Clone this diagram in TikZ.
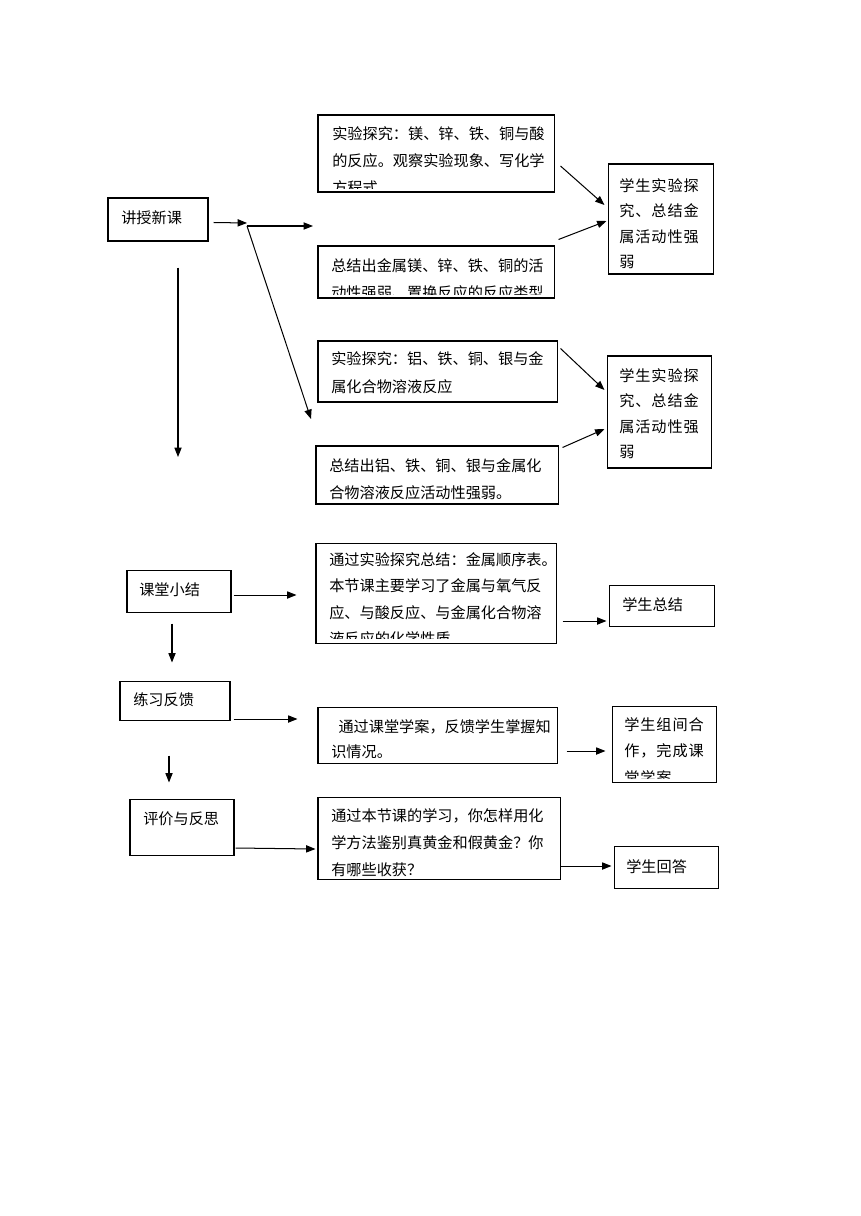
\documentclass[tikz,border=0pt]{standalone}
\usepackage{fontspec}
\setmainfont{Noto Sans CJK SC}
\usetikzlibrary{arrows.meta,fit}

\begin{document}
\begin{tikzpicture}[x=0.6924pt,y=-0.6924pt,
    box/.style={draw,line width=0.7pt,inner sep=0pt},
    txt/.style={anchor=north west,inner sep=0pt,align=left,
      font=\fontsize{10.5pt}{18.7pt}\selectfont},
    wide/.style={txt,font=\fontsize{10.5pt}{17.6pt}\selectfont\addfontfeature{LetterSpace=6}},
    arr/.style={-{Triangle[length=6.5pt,width=5pt]},line width=0.7pt}]
  \useasboundingbox[fill=white] (0,0) rectangle (860,1216);

  % left column
  \node[box,fit={(108,198) (208,241)}] (lecture) {};
  \node[txt] (lecturetxt) at (121,210) {讲授新课};
  \node[box,fit={(127,570) (231,612)}] (summary) {};
  \node[txt] (summarytxt) at (139,582) {课堂小结};
  \node[box,fit={(120,681) (230,720)}] (practice) {};
  \node[txt] (practicetxt) at (133,692) {练习反馈};
  \node[box,fit={(130,799) (234,855)}] (reflect) {};
  \node[txt] (reflecttxt) at (143,811) {评价与反思};

  % middle column
  \node[box,fit={(318,115) (554,192)}] (acid) {};
  \begin{scope}
    \clip (acid.north west) rectangle ([yshift=3pt]acid.south east);
    \node[txt] (acidtxt) at (332,126)
      {实验探究：镁、锌、铁、铜与酸\\的反应。观察实验现象、写化学\\方程式};
  \end{scope}
  \node[box,fit={(318,246) (554,298)}] (acidsum) {};
  \begin{scope}
    \clip (acidsum.north west) rectangle ([yshift=3pt]acidsum.south east);
    \node[txt] (acidsumtxt) at (331,258)
      {总结出金属镁、锌、铁、铜的活\\动性强弱、置换反应的反应类型};
  \end{scope}
  \node[box,fit={(318,341) (557,402)}] (salt) {};
  \node[txt,font=\fontsize{10.5pt}{19.4pt}\selectfont] (salttxt) at (331,351)
    {实验探究：铝、铁、铜、银与金\\属化合物溶液反应};
  \node[box,fit={(316,543) (556,643)}] (order) {};
  \begin{scope}
    \clip (order.north west) rectangle ([yshift=3.5pt]order.south east);
    \node[txt,font=\fontsize{10.5pt}{18.3pt}\selectfont] (ordertxt) at (329,552)
      {通过实验探究总结：金属顺序表。\\本节课主要学习了金属与氧气反\\应、与酸反应、与金属化合物溶\\液反应的化学性质};
  \end{scope}
  \node[box,fit={(316,446) (558,504)}] (saltsum) {};
  \node[txt] (saltsumtxt) at (329,458)
    {总结出铝、铁、铜、银与金属化\\合物溶液反应活动性强弱。};
  \node[box,fit={(318,707) (557,763)}] (plan) {};
  \node[txt,font=\fontsize{10.5pt}{17.3pt}\selectfont] (plantxt) at (331,719)
    {\hspace*{5pt}通过课堂学案，反馈学生掌握知\\识情况。};
  \node[box,fit={(318,797) (560,879)}] (gold) {};
  \node[txt] (goldtxt) at (331,808)
    {通过本节课的学习，你怎样用化\\学方法鉴别真黄金和假黄金？你\\有哪些收获？};

  % right column
  \node[box,fit={(608,164) (713,274)}] (studA) {};
  \node[wide] (studAtxt) at (619,178) {学生实验探\\究、总结金\\属活动性强\\弱};
  \node[box,fit={(607,356) (711,468)}] (studB) {};
  \node[wide] (studBtxt) at (619,368) {学生实验探\\究、总结金\\属活动性强\\弱};
  \node[box,fit={(609,585) (714,626)}] (studsum) {};
  \node[txt] (studsumtxt) at (622,597) {学生总结};
  \node[box,fit={(612,706) (716,782)}] (group) {};
  \begin{scope}
    \clip (group.north west) rectangle ([yshift=3pt]group.south east);
    \node[wide,font=\fontsize{10.5pt}{18.3pt}\selectfont\addfontfeature{LetterSpace=6}] (grouptxt) at (624,717)
      {学生组间合\\作，完成课\\堂学案};
  \end{scope}
  \node[box,fit={(614,846) (718,888)}] (answer) {};
  \node[txt] (answertxt) at (626,859) {学生回答};

  % connectors
  \coordinate (fork) at (247,223);
  \coordinate (upperend) at (313,226);
  \coordinate (lowerend) at (311,419);
  \coordinate (mainend) at (178,457);
  \draw[arr] ([shift={(5,3)}]lecture.east) -- (fork);
  \draw[arr] ([shift={(0,3)}]fork) -- (upperend);
  \draw[arr] ([shift={(0,3)}]fork) -- (lowerend);
  \draw[arr] ([shift={(20,26)}]lecture.south) -- (mainend);

  \draw[arr] ([shift={(6,12.5)}]acid.east) -- ([shift={(-3,-14)}]studA.west);
  \draw[arr] ([shift={(4,-6)}]acidsum.north east) -- ([shift={(-1,2)}]studA.west);
  \draw[arr] ([shift={(3,8)}]salt.north east) -- ([shift={(-2,-22)}]studB.west);
  \draw[arr] ([shift={(4,2)}]saltsum.north east) -- ([shift={(-2,17)}]studB.west);

  \draw[arr] ([shift={(2,4)}]summary.east) -- ([shift={(-19,2)}]order.west);
  \draw[arr] ([shift={(6,28)}]order.east) -- ([shift={(-2,15.5)}]studsum.west);
  \draw[arr] ([shift={(-7,11)}]summary.south) -- ([shift={(-3,-18)}]practice.north);

  \draw[arr] ([shift={(3,18.5)}]practice.east) -- ([shift={(-20,-16)}]plan.west);
  \draw[arr] ([shift={(9,16)}]plan.east) -- ([shift={(-6,7)}]group.west);
  \draw[arr] ([shift={(-6,35)}]practice.south) -- ([shift={(-13,-16)}]reflect.north);

  \draw[arr] ([shift={(1,21)}]reflect.east) -- ([shift={(-2,11)}]gold.west);
  \draw[arr] ([shift={(0,28)}]gold.east) -- ([shift={(-2,-1)}]answer.west);
\end{tikzpicture}
\end{document}
